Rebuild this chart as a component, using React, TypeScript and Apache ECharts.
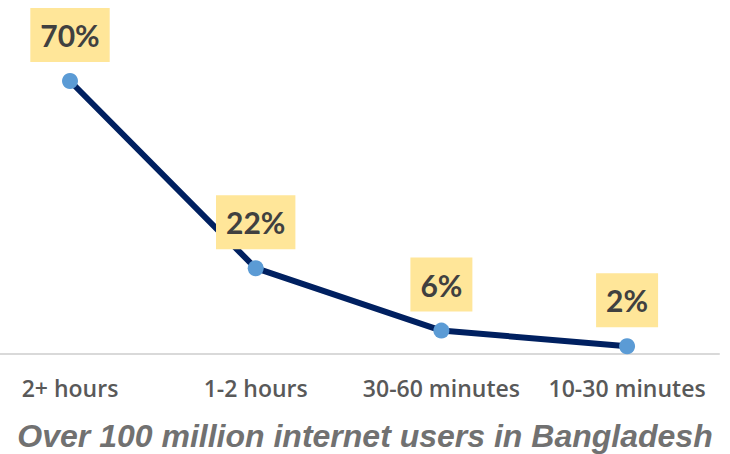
import React, { useEffect, useRef } from "react";
import * as echarts from "echarts";

const categories = ["2+ hours", "1-2 hours", "30-60 minutes", "10-30 minutes"];
const shares = [70, 22, 6, 2];
const pctLabels = ["70%", "22%", "6%", "2%"];
const caption = "Over 100 million internet users in Bangladesh";

export default function App() {
  const ref = useRef<HTMLDivElement>(null);
  useEffect(() => {
    if (!ref.current) return;
    const chart = echarts.init(ref.current, undefined, { renderer: "svg" });
    const data = shares.map((v, i) => [i, v]);
    chart.setOption({
      animation: false,
      backgroundColor: "#ffffff",
      title: {
        text: caption,
        left: "center",
        top: 420,
        padding: 0,
        textStyle: {
          fontFamily: "Liberation Sans",
          fontStyle: "italic",
          fontWeight: "bold",
          fontSize: 32,
          color: "#717171",
        },
      },
      grid: { left: 0, right: 11, top: 3, bottom: 100, containLabel: false },
      xAxis: {
        type: "value",
        min: -0.377,
        max: 3.495,
        axisLine: { show: true, onZero: false, lineStyle: { color: "#d9d9d9", width: 2 } },
        axisTick: { show: false },
        splitLine: { show: false },
        axisLabel: {
          customValues: [0, 1, 2, 3],
          formatter: (v: number) => categories[Math.round(v)] ?? "",
          margin: 22,
          fontFamily: "Open Sans",
          fontWeight: 600,
          fontSize: 23,
          color: "#595959",
        },
      },
      yAxis: {
        type: "value",
        min: 0,
        max: 90,
        show: false,
        splitLine: { show: false },
      },
      series: [
        {
          type: "line",
          data,
          symbol: "circle",
          symbolSize: 16,
          itemStyle: { color: "#5B9BD5" },
          lineStyle: { color: "#002060", width: 6 },
          z: 3,
          label: {
            show: true,
            position: "top",
            distance: 11,
            formatter: (p: any) => pctLabels[p.dataIndex],
            backgroundColor: "#FFE699",
            color: "#404040",
            fontFamily: "Lato",
            fontWeight: "bold",
            fontSize: 30,
            lineHeight: 36,
            padding: [9, 10],
          },
        },
      ],
    });
    return () => chart.dispose();
  }, []);
  return (
    <div
      ref={ref}
      style={{ position: "fixed", left: 0, top: 0, width: 730, height: 454 }}
    />
  );
}
